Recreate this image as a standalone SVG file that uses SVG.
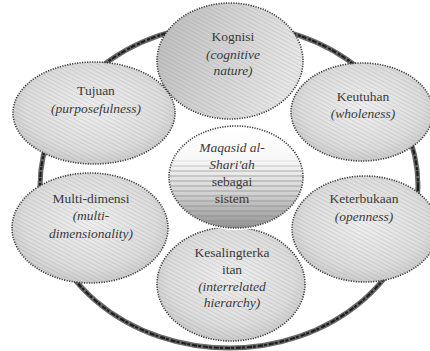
<svg xmlns="http://www.w3.org/2000/svg" width="430" height="351" viewBox="0 0 430 351">
<style>
.node{stroke:#3a3a3a;stroke-width:1.6;stroke-dasharray:1.2 1.3;}
.t{font-family:"Liberation Serif","DejaVu Serif",serif;font-size:13.5px;fill:#3a3a3a;text-anchor:middle;}
.i{font-style:italic;}
.ring1{fill:none;stroke:#6a6a6a;stroke-width:5;}
.ring2{fill:none;stroke:#1e1e1e;stroke-width:2.2;stroke-dasharray:5 2 3 1;}
</style>
<defs>
<radialGradient id="g" cx="50%" cy="45%" r="60%">
<stop offset="0" stop-color="#efefef"/>
<stop offset="0.7" stop-color="#dddddd"/>
<stop offset="1" stop-color="#c4c4c4"/>
</radialGradient>
<linearGradient id="gk" x1="0" y1="0" x2="1" y2="0.3">
<stop offset="0" stop-color="#bababa"/>
<stop offset="0.5" stop-color="#d2d2d2"/>
<stop offset="1" stop-color="#e6e6e6"/>
</linearGradient>
<pattern id="h" width="3.5" height="3.5" patternUnits="userSpaceOnUse" patternTransform="rotate(28)">
<line x1="0" y1="0.5" x2="3.5" y2="0.5" stroke="#8a8a8a" stroke-width="0.6" stroke-opacity="0.35"/>
</pattern>
<linearGradient id="gc" x1="0" y1="0" x2="0" y2="1">
<stop offset="0" stop-color="#ffffff"/>
<stop offset="0.35" stop-color="#f7f7f7"/>
<stop offset="0.65" stop-color="#d4d4d4"/>
<stop offset="1" stop-color="#939393"/>
</linearGradient>
<linearGradient id="gs" x1="0" y1="0" x2="0" y2="1">
<stop offset="0" stop-color="#fff" stop-opacity="0"/>
<stop offset="0.3" stop-color="#fff" stop-opacity="0"/>
<stop offset="0.45" stop-color="#fff" stop-opacity="1"/>
<stop offset="1" stop-color="#fff" stop-opacity="1"/>
</linearGradient>
<mask id="ms"><ellipse cx="236" cy="177" rx="67" ry="51" fill="url(#gs)"/></mask>
<pattern id="hs" width="6" height="5" patternUnits="userSpaceOnUse">
<rect x="0" y="0" width="6" height="2" fill="#8a8a8a" fill-opacity="0.35"/>
</pattern>
</defs>

<g id="connectors">
<ellipse class="ring1" cx="229" cy="186" rx="189" ry="162"/>
<ellipse class="ring2" cx="229" cy="186" rx="189" ry="162"/>
</g>

<g id="tujuan">
<ellipse class="node" cx="94" cy="113" rx="81" ry="51" fill="url(#g)"/>
<ellipse cx="94" cy="113" rx="81" ry="51" fill="url(#h)"/>
<text class="t" x="96" y="95">Tujuan</text>
<text class="t i" x="96" y="113">(purposefulness)</text>
</g>

<g id="kognisi">
<ellipse class="node" cx="230" cy="61" rx="73" ry="58" fill="url(#gk)"/>
<ellipse cx="230" cy="61" rx="73" ry="58" fill="url(#h)"/>
<text class="t" x="233" y="41">Kognisi</text>
<text class="t i" x="233" y="59">(cognitive</text>
<text class="t i" x="233" y="75">nature)</text>
</g>

<g id="keutuhan">
<ellipse class="node" cx="362" cy="112" rx="71" ry="49" fill="url(#g)"/>
<ellipse cx="362" cy="112" rx="71" ry="49" fill="url(#h)"/>
<text class="t" x="363" y="101">Keutuhan</text>
<text class="t i" x="363" y="118">(wholeness)</text>
</g>

<g id="multidimensi">
<ellipse class="node" cx="90" cy="228" rx="78" ry="55" fill="url(#g)"/>
<ellipse cx="90" cy="228" rx="78" ry="55" fill="url(#h)"/>
<text class="t" x="91" y="203">Multi-dimensi</text>
<text class="t i" x="91" y="220">(multi-</text>
<text class="t i" x="91" y="238">dimensionality)</text>
</g>

<g id="keterbukaan">
<ellipse class="node" cx="365" cy="229" rx="73" ry="53" fill="url(#g)"/>
<ellipse cx="365" cy="229" rx="73" ry="53" fill="url(#h)"/>
<text class="t" x="364" y="203">Keterbukaan</text>
<text class="t i" x="364" y="221">(openness)</text>
</g>

<g id="kesalingterkaitan">
<ellipse class="node" cx="231" cy="284" rx="74" ry="57" fill="url(#g)"/>
<ellipse cx="231" cy="284" rx="74" ry="57" fill="url(#h)"/>
<text class="t" x="232" y="257">Kesalingterka</text>
<text class="t" x="232" y="274">itan</text>
<text class="t i" x="232" y="291">(interrelated</text>
<text class="t i" x="232" y="307">hierarchy)</text>
</g>

<g id="maqasid">
<ellipse cx="236" cy="177" rx="69" ry="53" fill="#ffffff"/>
<ellipse class="node" cx="236" cy="177" rx="67" ry="51" fill="url(#gc)"/>
<ellipse cx="236" cy="177" rx="67" ry="51" fill="url(#hs)" mask="url(#ms)"/>
<text class="t i" x="232" y="152">Maqasid al-</text>
<text class="t i" x="232" y="169">Shari'ah</text>
<text class="t" x="232" y="186">sebagai</text>
<text class="t" x="232" y="203">sistem</text>
</g>
</svg>
